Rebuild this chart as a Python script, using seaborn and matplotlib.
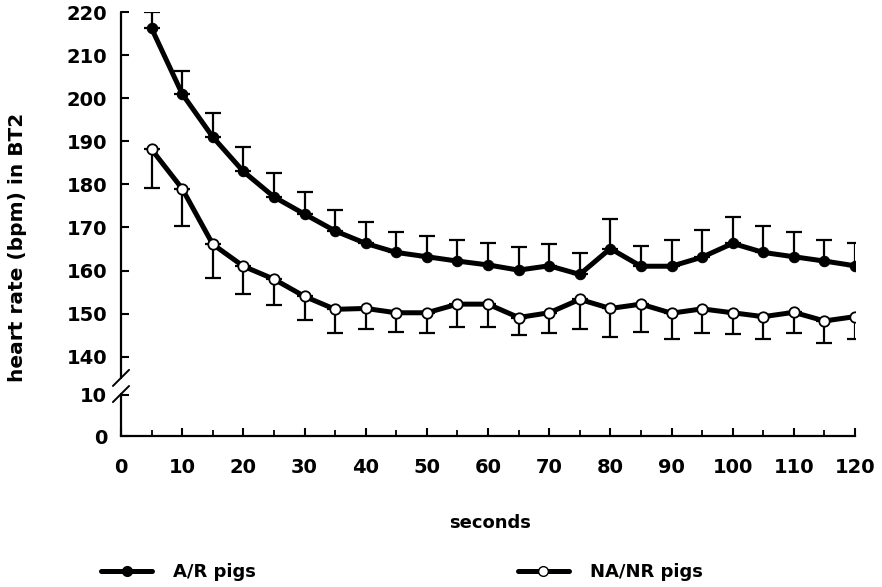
import numpy as np
import pandas as pd
import matplotlib
matplotlib.use("Agg")
import matplotlib.pyplot as plt
from matplotlib.lines import Line2D
import seaborn as sns

# ---- data ----
seconds = [5, 10, 15, 20, 25, 30, 35, 40, 45, 50, 55, 60,
           65, 70, 75, 80, 85, 90, 95, 100, 105, 110, 115, 120]
ar_mean = [216.2, 201.0, 191.0, 183.0, 177.1, 173.1, 169.2, 166.3, 164.2, 163.2, 162.2, 161.3,
           160.1, 161.1, 159.1, 165.1, 161.0, 161.0, 163.1, 166.3, 164.2, 163.2, 162.2, 161.1]
ar_upper = [219.9, 206.4, 196.5, 188.7, 182.6, 178.3, 174.0, 171.2, 169.0, 168.0, 167.0, 166.3,
            165.4, 166.1, 164.0, 172.0, 165.8, 167.2, 169.4, 172.5, 170.3, 168.9, 167.2, 166.3]
na_mean = [188.1, 179.0, 166.1, 161.0, 158.0, 154.0, 151.0, 151.2, 150.2, 150.2, 152.2, 152.2,
           149.1, 150.2, 153.3, 151.2, 152.2, 150.1, 151.1, 150.2, 149.3, 150.3, 148.3, 149.3]
na_lower = [179.1, 170.3, 158.3, 154.5, 152.0, 148.5, 145.6, 146.4, 145.8, 145.4, 147.0, 147.0,
            145.0, 145.4, 146.4, 144.6, 145.8, 144.0, 145.6, 145.3, 144.1, 145.6, 143.2, 144.1]
y_ticks = [0, 10, 140, 150, 160, 170, 180, 190, 200, 210, 220]
x_ticks = list(range(0, 121, 10))
labels = ["A/R pigs", "NA/NR pigs"]

df = pd.DataFrame({
    "seconds": seconds * 2,
    "hr": ar_mean + na_mean,
    "group": [labels[0]] * len(seconds) + [labels[1]] * len(seconds),
})

sns.set_theme(style="ticks")
plt.rcParams["font.family"] = ["DejaVu Sans"]
plt.rcParams["font.weight"] = "bold"
plt.rcParams["text.color"] = "black"
plt.rcParams["axes.labelcolor"] = "black"
plt.rcParams["xtick.color"] = "black"
plt.rcParams["ytick.color"] = "black"

fig = plt.figure(figsize=(8.82, 5.87), dpi=100)
ax = fig.add_axes([121 / 882, 1 - 436 / 587, (855 - 121) / 882, (436 - 12) / 587])

# broken y axis: 0-10 compressed below 140
src = [-1000, 0, 10, 140, 1000]
dst = [-960, 0, 9.6, 18.4, 878.4]
fwd = lambda y: np.interp(y, src, dst)
inv = lambda y: np.interp(y, dst, src)
ax.set_yscale("function", functions=(fwd, inv))

# error bars
ax.errorbar(seconds, ar_mean,
            yerr=[np.zeros(len(seconds)), np.array(ar_upper) - np.array(ar_mean)],
            fmt="none", ecolor="black", elinewidth=1.6, capsize=5.5, capthick=1.6, zorder=2)
ax.errorbar(seconds, na_mean,
            yerr=[np.array(na_mean) - np.array(na_lower), np.zeros(len(seconds))],
            fmt="none", ecolor="black", elinewidth=1.6, capsize=5.5, capthick=1.6, zorder=2)

sns.lineplot(data=df[df.group == labels[0]], x="seconds", y="hr", ax=ax,
             color="black", linewidth=3.6, marker="o", markersize=7.5,
             markerfacecolor="black", markeredgecolor="black", legend=False, zorder=3)
sns.lineplot(data=df[df.group == labels[1]], x="seconds", y="hr", ax=ax,
             color="black", linewidth=3.6, marker="o", markersize=7.5,
             markerfacecolor="white", markeredgecolor="black", markeredgewidth=1.3,
             legend=False, zorder=3)

ax.set_xlim(0, 120)
ax.set_ylim(0, 220)
ax.set_xticks(x_ticks)
ax.set_xticks(list(range(5, 120, 10)), minor=True)
ax.set_yticks(y_ticks)
ax.set_xticklabels([str(v) for v in x_ticks], fontsize=14, fontweight="bold", color="black")
ax.set_yticklabels([str(v) for v in y_ticks], fontsize=14, fontweight="bold", color="black")
ax.tick_params(axis="both", which="major", direction="in", length=6, width=1.5,
               color="black", labelcolor="black")
ax.tick_params(axis="x", which="minor", direction="in", length=4, width=1.3, color="black")
ax.tick_params(axis="x", which="major", pad=16)
ax.tick_params(axis="y", pad=10)

for s in ["top", "right"]:
    ax.spines[s].set_visible(False)
ax.spines["bottom"].set_linewidth(1.6)
ax.spines["bottom"].set_color("black")
ax.spines["left"].set_visible(False)

# left spine drawn in two pieces with break marks
trans = ax.transAxes
ax.plot([0, 0], [0, 0.099], transform=trans, color="black", lw=1.6, clip_on=False)
ax.plot([0, 0], [0.137, 1.0], transform=trans, color="black", lw=1.6, clip_on=False)
dx, dy = 0.011, 0.019
for yc in (0.137, 0.099):
    ax.plot([-dx, dx], [yc - dy, yc + dy], transform=trans, color="black", lw=1.4, clip_on=False)

ax.set_xlabel("")
ax.set_ylabel("")
fig.text(18 / 882, 1 - 247 / 587, "heart rate (bpm) in BT2", rotation=90,
         ha="center", va="center", fontsize=14.5, fontweight="bold", color="black")
fig.text(490 / 882, 1 - 523 / 587, "seconds", ha="center", va="center",
         fontsize=13, fontweight="bold", color="black")

handles = [
    Line2D([], [], color="black", lw=3.6, marker="o", markersize=7,
           markerfacecolor="black", markeredgecolor="black"),
    Line2D([], [], color="black", lw=3.6, marker="o", markersize=7,
           markerfacecolor="white", markeredgecolor="black"),
]
leg = fig.legend(handles, labels, loc="center left", bbox_to_anchor=(85 / 882, 1 - 572 / 587),
                 ncol=2, frameon=False, handlelength=2.8, columnspacing=14.5,
                 handletextpad=1.2, prop={"weight": "bold", "size": 13})
for t in leg.get_texts():
    t.set_color("black")

fig.savefig("out.png", dpi=100)
